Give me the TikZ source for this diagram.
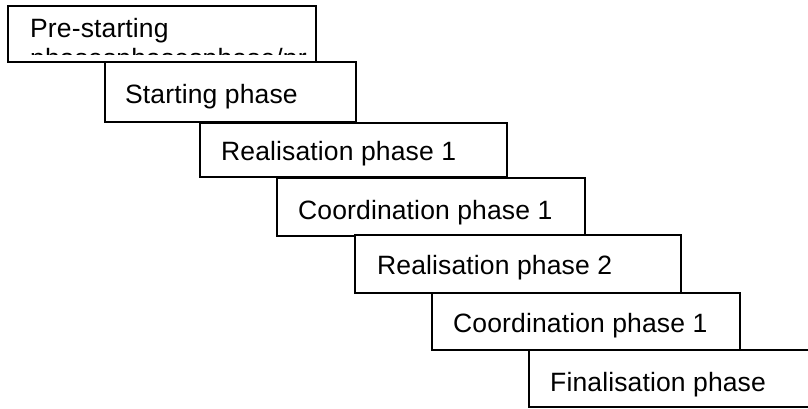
\documentclass[tikz,border=0pt]{standalone}
\usepackage{fontspec}
\setmainfont{Liberation Sans}
\newfontfamily\phasefont[LetterSpace=0.5]{Liberation Sans}
\begin{document}
\begin{tikzpicture}[x=1pt,y=-1pt,
  phasebox/.style={draw=black, fill=white, line width=1.8pt, rectangle},
  phasetext/.style={inner sep=0pt, anchor=base west, font=\phasefont\fontsize{26.5}{30}\selectfont}]
\path[use as bounding box] (0,0) rectangle (808,409);
\fill[white] (0,0) rectangle (808,409);
\begin{scope}
\clip (0,0) rectangle (808,409);
% staircase of phase boxes, each drawn over the previous one
\draw[phasebox] (8,6) rectangle (316,62) coordinate (b1);
\begin{scope}
  \clip (9,7) rectangle (315,54.8);
  \node[phasetext] (t1b) at (30,67.5) {phasesphasesphase/pr};
\end{scope}
\node[phasetext] (t1) at (30,38) {Pre-starting};

\draw[phasebox] (105,62) rectangle (356,122) coordinate (b2);
\node[phasetext] (t2) at (125,104) {Starting phase};

\draw[phasebox] (200,123) rectangle (507,177) coordinate (b3);
\node[phasetext] (t3) at (221,160) {Realisation phase 1};

\draw[phasebox] (277,178) rectangle (585,236) coordinate (b4);
\node[phasetext] (t4) at (298,219) {Coordination phase 1};

\draw[phasebox] (355,235) rectangle (681,293) coordinate (b5);
\node[phasetext] (t5) at (377,274) {Realisation phase 2};

\draw[phasebox] (432,293) rectangle (740,350) coordinate (b6);
\node[phasetext] (t6) at (453,332) {Coordination phase 1};

\draw[phasebox] (529,350) rectangle (840,407) coordinate (b7);
\node[phasetext] (t7) at (550,391) {Finalisation phase};
\end{scope}
\end{tikzpicture}
\end{document}
